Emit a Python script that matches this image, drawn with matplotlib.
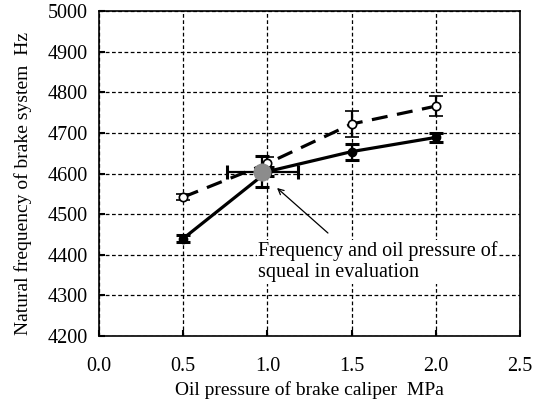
import matplotlib
matplotlib.use("Agg")
import matplotlib.pyplot as plt

plt.rcParams['font.family'] = ['Liberation Serif', 'DejaVu Serif']

pressure = [0.5, 1.0, 1.5, 2.0]
freq_open = [4542, 4625, 4722, 4766]
err_open = [8, 15, 32, 24]
freq_filled = [4440, 4605, 4654, 4689]
err_filled = [8, 10, 20, 12]
squeal_x = [0.97]
squeal_y = [4604]
squeal_xerr = [0.21]
squeal_yerr = [38]

fig = plt.figure(figsize=(5.38, 4.12), dpi=100)
ax = fig.add_axes([0.184, 0.1845, 0.7825, 0.7885])

ax.errorbar(pressure, freq_open, yerr=err_open, color='black', lw=2.3,
             linestyle=(0, (5, 3)), marker='o', mfc='white', mec='black',
             ms=6, mew=1.2, capsize=5, capthick=2.2, elinewidth=1.6, zorder=4)
ax.errorbar(pressure, freq_filled, yerr=err_filled, color='black', lw=2.3,
             linestyle='-', marker='o', mfc='black', mec='black',
             ms=6, capsize=5, capthick=2.2, elinewidth=1.6, zorder=4)
ax.errorbar(squeal_x, squeal_y, xerr=squeal_xerr, yerr=squeal_yerr,
             color='black', marker='o', mfc='#8c8c8c', mec='#8c8c8c',
             ms=12, capsize=5, capthick=2.2, elinewidth=1.6, ls='none', zorder=5)

ax.set_xlim(0, 2.5)
ax.set_ylim(4200, 5000)
ax.set_xticks([0.0, 0.5, 1.0, 1.5, 2.0, 2.5])
ax.set_xticklabels(['0.0', '0.5', '1.0', '1.5', '2.0', '2.5'])
ax.set_yticks(range(4200, 5001, 100))
ax.grid(True, color='black', linestyle=(0, (3, 2)), linewidth=0.9)
ax.set_axisbelow(True)
ax.tick_params(direction='in', length=4, width=1.5, labelsize=14.5)
ax.tick_params(axis='x', pad=15)
ax.tick_params(axis='y', pad=8)
for s in ax.spines.values():
    s.set_linewidth(1.2)

ax.set_xlabel('Oil pressure of brake caliper  MPa', fontsize=14, labelpad=4)
ax.set_ylabel('Natural frequency of brake system  Hz', fontsize=14)
ax.yaxis.set_label_coords(-0.159, 0.468)

ax.annotate('', xy=(1.045, 4569), xytext=(1.372, 4449),
            arrowprops=dict(arrowstyle='->', color='black', lw=0.9), zorder=6)
ax.text(0.944, 4383, 'Frequency and oil pressure of\nsqueal in evaluation',
        fontsize=14.5, ha='left', va='center', linespacing=1.15, zorder=6,
        bbox=dict(facecolor='white', edgecolor='none', pad=1))

fig.savefig('out.png', dpi=100)
